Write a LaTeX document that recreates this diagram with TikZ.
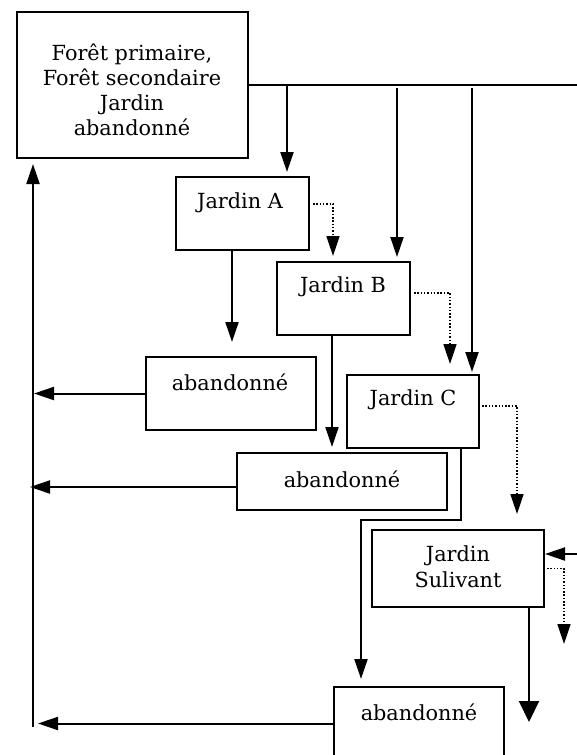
\documentclass[tikz,border=0pt]{standalone}
\usepackage{fontspec}
\setmainfont{DejaVu Serif}
\usetikzlibrary{arrows.meta}
\begin{document}
\begin{tikzpicture}[x=1pt,y=-1pt,
  box/.style={draw,line width=2pt,inner sep=0pt},
  txt/.style={font=\fontsize{20.8}{25}\selectfont,align=center,inner sep=0pt},
  arr/.style={line width=2pt,-{Triangle[length=20pt,width=13pt]}},
  dotarr/.style={line width=1.6pt,dash pattern=on 1.5pt off 1.8pt,-{Triangle[length=20pt,width=13pt]}},
  bigarr/.style={line width=2pt,-{Triangle[length=21pt,width=20pt]}},
  plain/.style={line width=2pt}]
\useasboundingbox (0,0) rectangle (577,755);
\clip (0,0) rectangle (577,755);
% boxes
\node[box,minimum width=231pt,minimum height=146pt] (big) at (132.5,85) {};
\node[txt] (bigt) at (132,90) {Forêt primaire,\\Forêt secondaire\\Jardin\\abandonné};
\node[box,minimum width=133pt,minimum height=73pt] (jA) at (242.5,213.5) {};
\node[txt] (jAt) at (240,203) {Jardin A};
\node[box,minimum width=133pt,minimum height=73pt] (jB) at (343.5,298.5) {};
\node[txt] (jBt) at (343,287) {Jardin B};
\node[box,minimum width=132pt,minimum height=73pt] (jC) at (413,411.5) {};
\node[txt] (jCt) at (413,400) {Jardin C};
\node[box,minimum width=170pt,minimum height=73pt] (ab1) at (231,393.5) {};
\node[txt] (ab1t) at (230,382) {abandonné};
\node[box,minimum width=210pt,minimum height=57pt] (ab2) at (342,481.5) {};
\node[txt] (ab2t) at (342,479) {abandonné};
\node[box,minimum width=172pt,minimum height=77pt] (jS) at (458,568.5) {};
\node[txt,font=\fontsize{20.8}{26}\selectfont] (jSt) at (458,567) {Jardin\\Sulivant};
\node[box,minimum width=170pt,minimum height=73pt] (ab3) at (419,723.5) {};
\node[txt] (ab3t) at (419,712) {abandonné};
% coordinates
\coordinate (hend) at (577,85);
\coordinate (v1) at (287,85);
\coordinate (v2) at (397,88);
\coordinate (v3) at (472,88);
\coordinate (xa) at (232,0);
\coordinate (xb) at (332,0);
\coordinate (bend1) at (461,520);
\coordinate (bend2) at (361,520);
\coordinate (sEnd) at (529,722);
\coordinate (inS) at (577,554);
\coordinate (dS) at (564,644);
\coordinate (L1) at (34,0);
\coordinate (L2) at (30,0);
\coordinate (L3) at (38,0);
\coordinate (mbot) at (33,727);
% connectors
\draw[plain] (big.east) -- (hend);
\draw[arr,shorten >=4pt] (v1) -- (v1 |- jA.north);
\draw[arr,shorten >=4pt] (v2) -- (v2 |- jB.north);
\draw[arr,shorten >=2pt] (v3) -- (v3 |- jC.north);
\draw[dotarr,shorten >=5pt] ([xshift=3pt,yshift=9.5pt]jA.east) -| ([xshift=-10.5pt]jB.north);
\draw[dotarr,shorten >=10pt] ([xshift=3pt,yshift=5.5pt]jB.east) -| ([xshift=37pt]jC.north);
\draw[dotarr,shorten >=15pt] ([xshift=2pt,yshift=5.5pt]jC.east) -| ([xshift=59pt]jS.north);
\draw[arr,shorten >=14pt] (jA.south -| xa) -- (ab1.north -| xa);
\draw[arr,shorten >=5pt] (jB.south -| xb) -- (ab2.north -| xb);
\draw[arr,shorten >=7pt] (jC.south -| bend1) -- (bend1) -- (bend2) -- (ab3.north -| bend2);
\draw[bigarr] (jS.south -| sEnd) -- (sEnd);
\draw[arr] (inS) -- (jS.east |- inS);
\draw[dotarr] ([xshift=2pt]jS.east) -| (dS);
\draw[arr] (ab1.west) -- (ab1.west -| L1);
\draw[arr] ([yshift=-5.5pt]ab2.west) -- ([yshift=-5.5pt]ab2.west -| L2);
\draw[arr] (ab3.west) -- (ab3.west -| L3);
\draw[arr,shorten >=5pt] (mbot) -- (big.south -| mbot);
\end{tikzpicture}
\end{document}
